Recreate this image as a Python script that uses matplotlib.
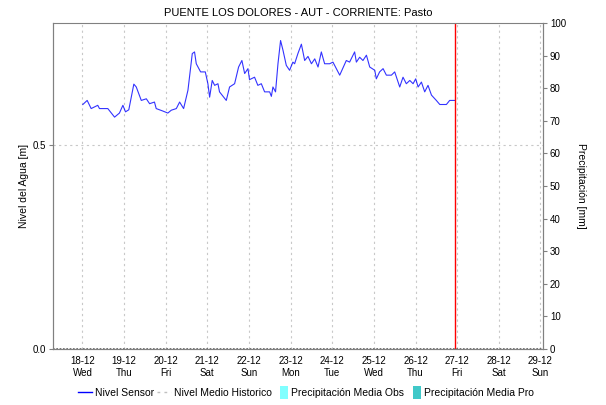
import numpy as np
import pandas as pd
import matplotlib
matplotlib.use("Agg")
import matplotlib.pyplot as plt
from matplotlib.lines import Line2D
from matplotlib.patches import Patch, Rectangle
from matplotlib.legend_handler import HandlerPatch

plt.rcParams["font.family"] = ["Liberation Sans", "DejaVu Sans"]

# sensor level: hours since 18-12 00:00 and level in metres
sensor_hours = [0.2, 2.7, 5.0, 8.8, 9.8, 14.6, 18.5, 21.3, 23.3, 24.8, 26.7, 29.6,
                31.0, 33.9, 36.8, 38.7, 41.5, 42.5, 46.3, 49.2, 51.2, 54.1, 56.0, 58.3,
                60.8, 63.3, 64.6, 65.6, 68.1, 70.8, 72.3, 73.3, 74.8, 76.2, 78.1, 79.0,
                82.9, 84.8, 87.7, 90.0, 91.9, 93.5, 95.4, 96.3, 99.2, 101.1, 103.1, 105.0,
                107.9, 108.9, 109.8, 111.3, 112.7, 114.2, 115.6, 117.5, 119.4, 121.3, 122.3,
                124.2, 126.2, 128.1, 130.0, 132.0, 133.9, 135.8, 137.7, 139.6, 142.5, 144.4,
                148.3, 152.1, 154.0, 156.9, 157.9, 159.8, 161.7, 163.7, 165.6, 168.5, 169.4,
                171.3, 173.3, 175.2, 178.1, 180.0, 182.9, 184.8, 186.7, 188.7, 190.6, 192.1,
                193.5, 195.4, 197.3, 199.2, 201.2, 204.0, 206.0, 209.8, 211.7, 214.6]
sensor_level = [0.600, 0.610, 0.590, 0.598, 0.590, 0.590, 0.569, 0.579, 0.598, 0.582, 0.587, 0.650,
                0.643, 0.610, 0.614, 0.602, 0.606, 0.590, 0.584, 0.579, 0.586, 0.590, 0.606, 0.590,
                0.635, 0.725, 0.729, 0.700, 0.680, 0.680, 0.651, 0.618, 0.659, 0.647, 0.651, 0.631,
                0.610, 0.643, 0.651, 0.692, 0.708, 0.676, 0.688, 0.661, 0.667, 0.647, 0.651, 0.631,
                0.631, 0.620, 0.643, 0.631, 0.700, 0.757, 0.733, 0.696, 0.684, 0.704, 0.700,
                0.725, 0.748, 0.708, 0.718, 0.700, 0.712, 0.692, 0.729, 0.700, 0.700, 0.704,
                0.672, 0.708, 0.704, 0.729, 0.704, 0.716, 0.708, 0.721, 0.692, 0.684, 0.663,
                0.680, 0.688, 0.672, 0.672, 0.680, 0.643, 0.667, 0.651, 0.659, 0.651, 0.663,
                0.643, 0.655, 0.631, 0.647, 0.623, 0.610, 0.600, 0.600, 0.610, 0.610]

hist_dates = ["2024-12-17 07:00", "2024-12-29 02:00"]
hist_level = [0.0, 0.0]

now_line = "2024-12-26 23:00"
day_ticks = pd.date_range("2024-12-18", "2024-12-29", freq="D")
tick_labels = [d.strftime("%d-%m") + "\n" + d.strftime("%a") for d in day_ticks]

start = pd.Timestamp("2024-12-18")
sensor_t = start + pd.to_timedelta(sensor_hours, unit="h")

fig = plt.figure(figsize=(6.06, 4.05), dpi=100)
ax1 = fig.add_axes([53 / 606, 1 - 349 / 405, 490 / 606, 326 / 405])

grid_c = "#c8c8c8"
spine_c = "#808080"

ax1.plot(sensor_t, sensor_level, color="#0000ff", lw=0.8, alpha=0.8)
ax1.plot(pd.to_datetime(hist_dates), hist_level, color="#606060", lw=1.2, ls=(0, (1, 1)))
ax1.axvline(pd.Timestamp(now_line), color="#ff0000", lw=1)

ax1.set_xlim(pd.Timestamp("2024-12-17 07:00"), pd.Timestamp("2024-12-29 01:30"))
ax1.set_ylim(0, 0.8)
ax1.set_yticks([0.0, 0.5])
ax1.set_yticklabels(["0.0", "0.5"])
ax1.set_xticks(day_ticks)
ax1.set_xticklabels(tick_labels)
ax1.grid(True, color=grid_c, ls=(0, (2, 3)), lw=0.8)
ax1.set_ylabel("Nivel del Agua [m]", fontsize=7.5, labelpad=2.5)
ax1.set_title("PUENTE LOS DOLORES - AUT - CORRIENTE: Pasto", fontsize=8, pad=5)

ax2 = ax1.twinx()
ax2.set_ylim(0, 100)
ax2.set_yticks(np.arange(0, 101, 10))
ax2.set_ylabel("Precipitación [mm]", fontsize=7.5, rotation=270, labelpad=14)

for ax in (ax1, ax2):
    for s in ax.spines.values():
        s.set_color(spine_c)
    ax.tick_params(labelsize=7, color=spine_c, length=3, width=0.8, pad=2)
ax2.spines["top"].set_visible(False)
ax1.tick_params(axis="x", length=0, pad=5)


def narrow_patch(legend, orig_handle, xdescent, ydescent, width, height, fontsize):
    return Rectangle((width - 6 - xdescent, -ydescent - 2), 6, height + 4)


handles = [
    Line2D([], [], color="#0000ff", lw=1),
    Line2D([], [], color="#c0c0c0", lw=1, ls=(0, (2, 3))),
    Patch(facecolor="#80ffff", edgecolor="none"),
    Patch(facecolor="#40c8c8", edgecolor="none"),
]
labels = ["Nivel Sensor", "Nivel Medio Historico", "Precipitación Media Obs", "Precipitación Media Pro"]
fig.legend(handles, labels, loc="center", bbox_to_anchor=(0.505, 1 - 393 / 405), ncol=4,
           frameon=False, fontsize=7.5, handlelength=1.3, handletextpad=0.3, columnspacing=0.3,
           handler_map={Patch: HandlerPatch(patch_func=narrow_patch)})

fig.savefig("out.png", dpi=100)
